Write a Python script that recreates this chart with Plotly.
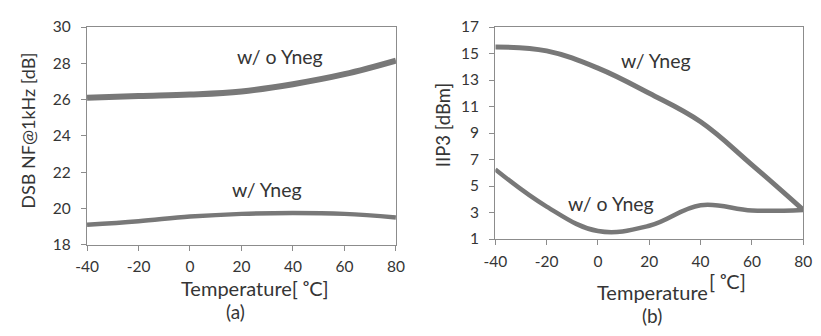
import plotly.graph_objects as go

# Temperature sweep (degC)
temperature = [-40, -20, 0, 20, 40, 60, 80]

# (a) DSB noise figure at 1 kHz [dB]
nf_without_yneg = [26.1, 26.2, 26.28, 26.45, 26.85, 27.4, 28.15]
nf_with_yneg = [19.1, 19.3, 19.55, 19.7, 19.75, 19.7, 19.5]

# (b) IIP3 [dBm]
iip3_with_yneg = [15.5, 15.2, 13.9, 12.0, 9.85, 6.6, 3.2]
iip3_without_yneg = [6.25, 3.45, 1.6, 2.0, 3.55, 3.15, 3.2]

x_ticks = [-40, -20, 0, 20, 40, 60, 80]
x_tick_text = ["-40", "-20", "0", "20", "40", "60", "80"]
nf_ticks = [18, 20, 22, 24, 26, 28, 30]
iip3_ticks = [1, 3, 5, 7, 9, 11, 13, 15, 17]

FONT = "Lato"
TEXT = "#353535"
LINE = "#787878"
AXIS = "#8c8c8c"

fig = go.Figure()

def curve(y, width, xa, ya):
    fig.add_trace(go.Scatter(x=temperature, y=y, mode="lines",
                             line=dict(color=LINE, width=width, shape="spline", smoothing=1.1),
                             xaxis=xa, yaxis=ya, showlegend=False))

curve(nf_without_yneg, 6, "x", "y")
curve(nf_with_yneg, 4.5, "x", "y")
curve(iip3_with_yneg, 5, "x2", "y2")
curve(iip3_without_yneg, 4.5, "x2", "y2")

W, H = 821, 336

def px(x):
    return x / W

def py(y):
    return 1 - y / H

axis_common = dict(showgrid=False, zeroline=False, showline=True, linecolor=AXIS,
                   linewidth=1.3, mirror=True, ticks="outside", ticklen=5,
                   tickcolor=AXIS, tickwidth=1.3,
                   tickfont=dict(family=FONT, size=15.5, color=TEXT))

fig.update_layout(
    width=W, height=H,
    margin=dict(l=0, r=0, t=0, b=0),
    paper_bgcolor="white", plot_bgcolor="white",
    xaxis=dict(domain=[px(77), px(394)], range=[-40, 80], tickvals=x_ticks,
               ticktext=x_tick_text, anchor="y", ticklabelstandoff=3, **axis_common),
    yaxis=dict(domain=[py(248), py(18)], range=[18, 30], tickvals=nf_ticks,
               anchor="x", ticklabelstandoff=7, **axis_common),
    xaxis2=dict(domain=[px(496), px(812)], range=[-40, 80], tickvals=x_ticks,
                ticktext=x_tick_text, anchor="y2", ticklabelstandoff=3, **axis_common),
    yaxis2=dict(domain=[py(242), py(18)], range=[1, 17], tickvals=iip3_ticks,
                anchor="x2", ticklabelstandoff=7, **axis_common),
)

def label(text, x, y, size=19.5, angle=0, anchor="center"):
    fig.add_annotation(text=text, x=px(x), y=py(y), xref="paper", yref="paper",
                       showarrow=False, textangle=angle, xanchor=anchor, yanchor="middle",
                       borderpad=0, font=dict(family=FONT, size=size, color=TEXT))

# Curve labels
label("w/ o Yneg", 275, 49)
label("w/ Yneg", 262, 190)
label("w/ Yneg", 661, 53)
label("w/ o Yneg", 615, 204)

# Axis titles
label("DSB NF@1kHz [dB]", 17, 128, size=18, angle=-90)
label("IIP3 [dBm]", 443, 122, size=18.5, angle=-90)
label("Temperature[ \u1d52C]", 249, 294, size=20)
label("(a)", 229, 319, size=19)
label("Temperature", 657, 298, size=20)
label("[ \u1d52C]", 714, 286, size=20, anchor="left")
label("(b)", 657, 323, size=19)

fig.write_html("out.html")
